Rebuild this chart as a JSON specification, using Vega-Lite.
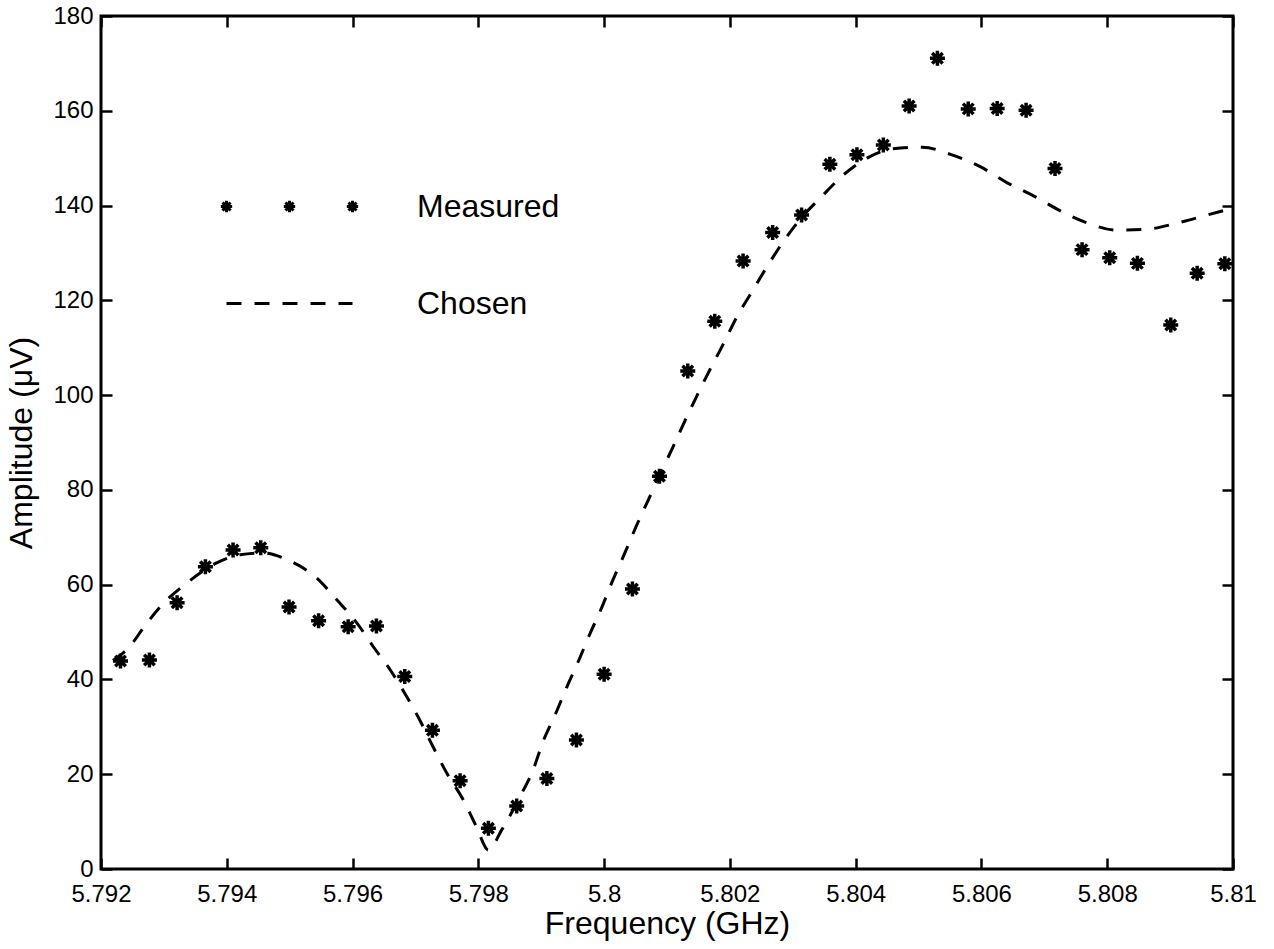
{
  "$schema": "https://vega.github.io/schema/vega-lite/v6.json",
  "width": 1132,
  "height": 853,
  "autosize": "none",
  "padding": {"left": 101, "top": 16, "right": 41, "bottom": 80},
  "background": "white",
  "config": {
    "view": {"stroke": "black", "strokeWidth": 3},
    "font": "Liberation Sans",
    "axis": {
      "grid": false,
      "domain": false,
      "ticks": true,
      "zindex": 1,
      "tickColor": "black",
      "tickWidth": 2.5,
      "tickSize": -11,
      "labelColor": "black",
      "titleColor": "black",
      "labelFont": "Liberation Sans",
      "titleFont": "Liberation Sans",
      "labelFontSize": 24,
      "titleFontSize": 32,
      "titleFontWeight": "normal",
      "labelOverlap": false,
      "labelBound": false,
      "labelFlush": false
    }
  },
  "datasets": {
    "amplitude": [
      {"series": "Measured", "freq": 5.79231, "amp": 43.9},
      {"series": "Measured", "freq": 5.79277, "amp": 44.1},
      {"series": "Measured", "freq": 5.79321, "amp": 56.2},
      {"series": "Measured", "freq": 5.79366, "amp": 63.8},
      {"series": "Measured", "freq": 5.79410, "amp": 67.3},
      {"series": "Measured", "freq": 5.79454, "amp": 67.8},
      {"series": "Measured", "freq": 5.79499, "amp": 55.3},
      {"series": "Measured", "freq": 5.79546, "amp": 52.4},
      {"series": "Measured", "freq": 5.79593, "amp": 51.1},
      {"series": "Measured", "freq": 5.79638, "amp": 51.3},
      {"series": "Measured", "freq": 5.79683, "amp": 40.6},
      {"series": "Measured", "freq": 5.79727, "amp": 29.3},
      {"series": "Measured", "freq": 5.79771, "amp": 18.6},
      {"series": "Measured", "freq": 5.79816, "amp": 8.6},
      {"series": "Measured", "freq": 5.79861, "amp": 13.3},
      {"series": "Measured", "freq": 5.79909, "amp": 19.1},
      {"series": "Measured", "freq": 5.79956, "amp": 27.2},
      {"series": "Measured", "freq": 5.80000, "amp": 41.1},
      {"series": "Measured", "freq": 5.80045, "amp": 59.1},
      {"series": "Measured", "freq": 5.80088, "amp": 82.9},
      {"series": "Measured", "freq": 5.80133, "amp": 105.1},
      {"series": "Measured", "freq": 5.80176, "amp": 115.6},
      {"series": "Measured", "freq": 5.80221, "amp": 128.3},
      {"series": "Measured", "freq": 5.80268, "amp": 134.3},
      {"series": "Measured", "freq": 5.80314, "amp": 138.0},
      {"series": "Measured", "freq": 5.80359, "amp": 148.7},
      {"series": "Measured", "freq": 5.80402, "amp": 150.7},
      {"series": "Measured", "freq": 5.80444, "amp": 152.8},
      {"series": "Measured", "freq": 5.80485, "amp": 161.0},
      {"series": "Measured", "freq": 5.80530, "amp": 171.1},
      {"series": "Measured", "freq": 5.80579, "amp": 160.4},
      {"series": "Measured", "freq": 5.80625, "amp": 160.5},
      {"series": "Measured", "freq": 5.80671, "amp": 160.1},
      {"series": "Measured", "freq": 5.80717, "amp": 147.8},
      {"series": "Measured", "freq": 5.80760, "amp": 130.7},
      {"series": "Measured", "freq": 5.80804, "amp": 129.0},
      {"series": "Measured", "freq": 5.80848, "amp": 127.8},
      {"series": "Measured", "freq": 5.80901, "amp": 114.8},
      {"series": "Measured", "freq": 5.80943, "amp": 125.7},
      {"series": "Measured", "freq": 5.80987, "amp": 127.7},
      {"series": "Chosen", "freq": 5.79219, "amp": 44.0},
      {"series": "Chosen", "freq": 5.79246, "amp": 47.0},
      {"series": "Chosen", "freq": 5.79267, "amp": 50.8},
      {"series": "Chosen", "freq": 5.79294, "amp": 55.3},
      {"series": "Chosen", "freq": 5.79336, "amp": 60.3},
      {"series": "Chosen", "freq": 5.79384, "amp": 64.6},
      {"series": "Chosen", "freq": 5.79421, "amp": 66.3},
      {"series": "Chosen", "freq": 5.79458, "amp": 66.7},
      {"series": "Chosen", "freq": 5.79497, "amp": 65.2},
      {"series": "Chosen", "freq": 5.79543, "amp": 61.4},
      {"series": "Chosen", "freq": 5.79575, "amp": 56.8},
      {"series": "Chosen", "freq": 5.79607, "amp": 51.9},
      {"series": "Chosen", "freq": 5.79633, "amp": 46.9},
      {"series": "Chosen", "freq": 5.79660, "amp": 42.0},
      {"series": "Chosen", "freq": 5.79686, "amp": 36.4},
      {"series": "Chosen", "freq": 5.79707, "amp": 31.4},
      {"series": "Chosen", "freq": 5.79728, "amp": 25.8},
      {"series": "Chosen", "freq": 5.79750, "amp": 20.2},
      {"series": "Chosen", "freq": 5.79776, "amp": 14.6},
      {"series": "Chosen", "freq": 5.79797, "amp": 8.9},
      {"series": "Chosen", "freq": 5.79816, "amp": 4.0},
      {"series": "Chosen", "freq": 5.79837, "amp": 8.2},
      {"series": "Chosen", "freq": 5.79866, "amp": 15.2},
      {"series": "Chosen", "freq": 5.79887, "amp": 20.9},
      {"series": "Chosen", "freq": 5.79903, "amp": 26.9},
      {"series": "Chosen", "freq": 5.79922, "amp": 32.5},
      {"series": "Chosen", "freq": 5.79941, "amp": 38.5},
      {"series": "Chosen", "freq": 5.79958, "amp": 43.5},
      {"series": "Chosen", "freq": 5.79978, "amp": 49.8},
      {"series": "Chosen", "freq": 5.79996, "amp": 55.1},
      {"series": "Chosen", "freq": 5.80014, "amp": 61.0},
      {"series": "Chosen", "freq": 5.80033, "amp": 66.7},
      {"series": "Chosen", "freq": 5.80052, "amp": 72.6},
      {"series": "Chosen", "freq": 5.80070, "amp": 77.8},
      {"series": "Chosen", "freq": 5.80089, "amp": 83.3},
      {"series": "Chosen", "freq": 5.80110, "amp": 89.2},
      {"series": "Chosen", "freq": 5.80129, "amp": 94.7},
      {"series": "Chosen", "freq": 5.80147, "amp": 99.7},
      {"series": "Chosen", "freq": 5.80168, "amp": 105.3},
      {"series": "Chosen", "freq": 5.80190, "amp": 110.9},
      {"series": "Chosen", "freq": 5.80211, "amp": 116.5},
      {"series": "Chosen", "freq": 5.80235, "amp": 121.8},
      {"series": "Chosen", "freq": 5.80259, "amp": 127.1},
      {"series": "Chosen", "freq": 5.80285, "amp": 132.4},
      {"series": "Chosen", "freq": 5.80311, "amp": 137.0},
      {"series": "Chosen", "freq": 5.80346, "amp": 141.9},
      {"series": "Chosen", "freq": 5.80380, "amp": 146.4},
      {"series": "Chosen", "freq": 5.80418, "amp": 150.0},
      {"series": "Chosen", "freq": 5.80459, "amp": 152.0},
      {"series": "Chosen", "freq": 5.80506, "amp": 152.3},
      {"series": "Chosen", "freq": 5.80553, "amp": 150.7},
      {"series": "Chosen", "freq": 5.80598, "amp": 148.2},
      {"series": "Chosen", "freq": 5.80641, "amp": 144.8},
      {"series": "Chosen", "freq": 5.80685, "amp": 141.9},
      {"series": "Chosen", "freq": 5.80728, "amp": 138.7},
      {"series": "Chosen", "freq": 5.80769, "amp": 136.3},
      {"series": "Chosen", "freq": 5.80816, "amp": 134.8},
      {"series": "Chosen", "freq": 5.80863, "amp": 135.0},
      {"series": "Chosen", "freq": 5.80911, "amp": 136.3},
      {"series": "Chosen", "freq": 5.80959, "amp": 138.0},
      {"series": "Chosen", "freq": 5.80995, "amp": 139.3}
    ]
  },
  "data": {"name": "amplitude"},
  "layer": [
    {
      "transform": [{"filter": "datum.series === 'Chosen'"}],
      "mark": {"type": "line", "color": "black", "strokeWidth": 3, "interpolate": "monotone"},
      "encoding": {
        "x": {
          "field": "freq", "type": "quantitative",
          "scale": {"domain": [5.792, 5.81], "nice": false, "zero": false},
          "axis": {
            "orient": "bottom",
            "values": [5.792, 5.794, 5.796, 5.798, 5.8, 5.802, 5.804, 5.806, 5.808, 5.81],
            "format": "~f",
            "labelPadding": 24,
            "title": "Frequency (GHz)",
            "titlePadding": 2
          }
        },
        "y": {
          "field": "amp", "type": "quantitative",
          "scale": {"domain": [0, 180], "nice": false, "zero": false},
          "axis": {
            "orient": "left",
            "values": [0, 20, 40, 60, 80, 100, 120, 140, 160, 180],
            "labelPadding": 19,
            "title": "Amplitude (μV)",
            "titlePadding": 14
          }
        },
        "strokeDash": {
          "field": "series", "type": "nominal",
          "scale": {"domain": ["Measured", "Chosen"], "range": [[1, 0], [15, 13]]},
          "legend": {
            "orient": "none",
            "legendX": 124,
            "legendY": 126,
            "title": null,
            "direction": "vertical",
            "padding": 0,
            "symbolSize": 15876,
            "symbolStrokeWidth": 3,
            "symbolStrokeColor": "black",
            "labelFont": "Liberation Sans",
            "labelFontSize": 32,
            "labelColor": "black",
            "labelOffset": 63,
            "rowPadding": 16,
            "encode": {
              "symbols": {
                "update": {
                  "shape": {"signal": "datum.value === 'Measured' ? 'M-1.09,0L-0.91,0M-1,-0.09L-1,0.09M-1.064,-0.064L-0.936,0.064M-1.064,0.064L-0.936,-0.064M-0.09,0L0.09,0M0,-0.09L0,0.09M-0.064,-0.064L0.064,0.064M-0.064,0.064L0.064,-0.064M0.91,0L1.09,0M1,-0.09L1,0.09M0.936,-0.064L1.064,0.064M0.936,0.064L1.064,-0.064' : 'M-1,0L1,0'"},
                  "strokeDash": {"signal": "datum.value === 'Measured' ? [1, 0] : [11, 19]"},
                  "stroke": {"value": "black"},
                  "fill": {"value": "transparent"},
                  "opacity": {"value": 1}
                }
              }
            }
          }
        }
      }
    },
    {
      "transform": [{"filter": "datum.series === 'Measured'"}],
      "mark": {
        "type": "point",
        "shape": "M-1,0L1,0M0,-1L0,1M-0.7,-0.7L0.7,0.7M-0.7,0.7L0.7,-0.7",
        "size": 225,
        "filled": false,
        "color": "black",
        "strokeWidth": 3.5,
        "opacity": 1
      },
      "encoding": {
        "x": {
          "field": "freq", "type": "quantitative",
          "scale": {"domain": [5.792, 5.81], "nice": false, "zero": false},
          "axis": {
            "orient": "top",
            "values": [5.792, 5.794, 5.796, 5.798, 5.8, 5.802, 5.804, 5.806, 5.808, 5.81],
            "labels": false,
            "title": null
          }
        },
        "y": {
          "field": "amp", "type": "quantitative",
          "scale": {"domain": [0, 180], "nice": false, "zero": false},
          "axis": {
            "orient": "right",
            "values": [0, 20, 40, 60, 80, 100, 120, 140, 160, 180],
            "labels": false,
            "title": null
          }
        }
      }
    }
  ],
  "resolve": {"scale": {"x": "independent", "y": "independent"}}
}
